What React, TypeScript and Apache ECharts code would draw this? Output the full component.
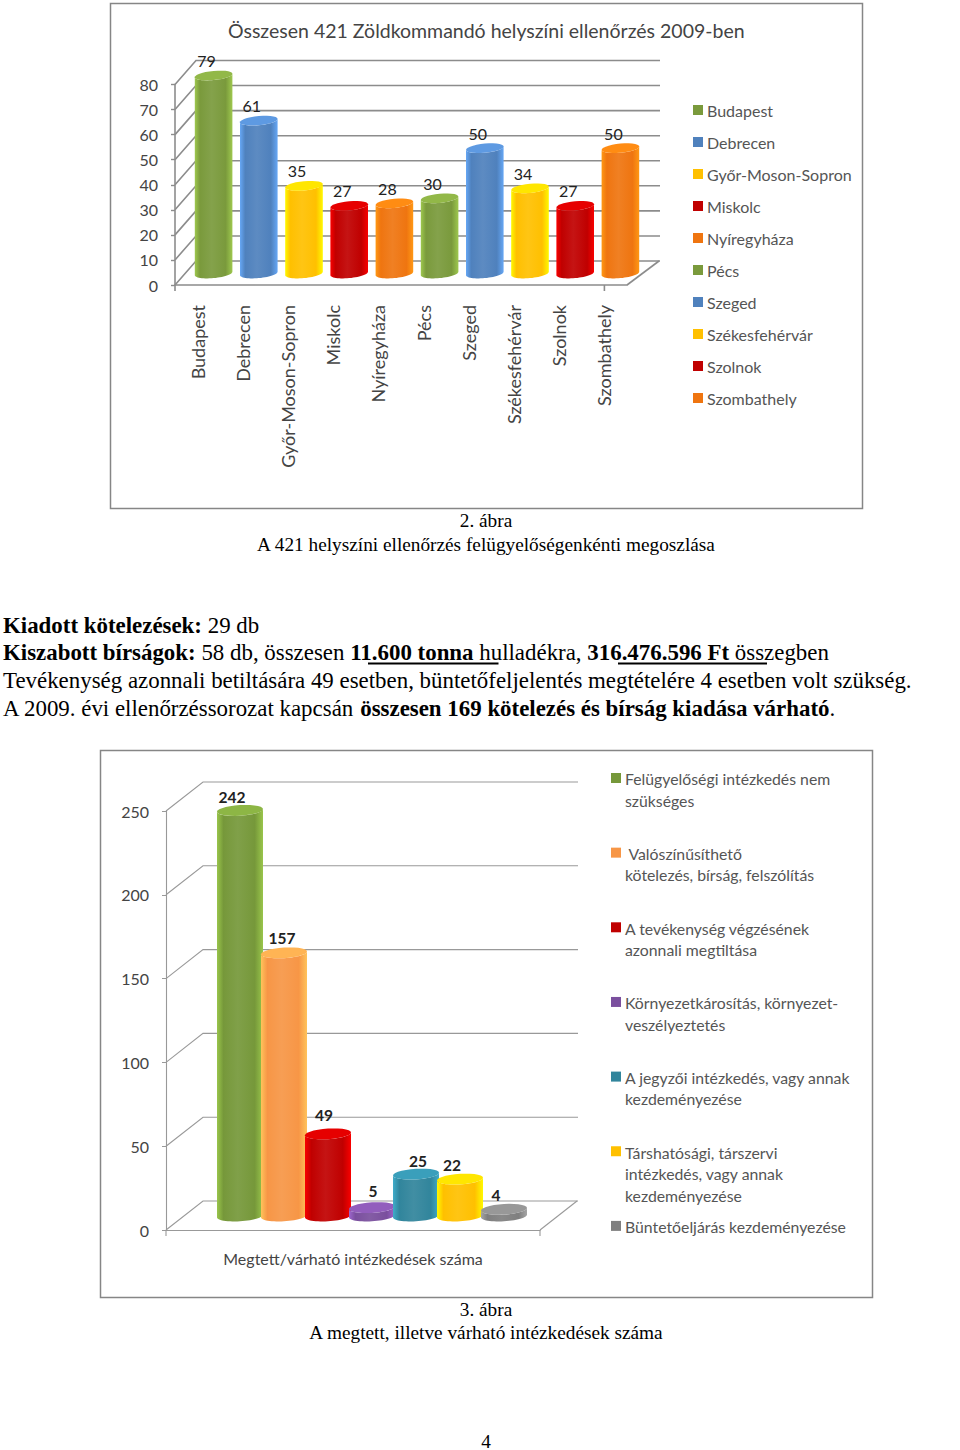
import React, { useEffect, useRef } from "react";
import * as echarts from "echarts";

const SANS = "Lato";
const SERIF = "Liberation Serif";

// Chart 1 data
const title1 = "Összesen 421 Zöldkommandó helyszíni ellenőrzés 2009-ben";
const cities = ["Budapest", "Debrecen", "Győr-Moson-Sopron", "Miskolc", "Nyíregyháza", "Pécs", "Szeged", "Székesfehérvár", "Szolnok", "Szombathely"];
const cityValues = [79, 61, 35, 27, 28, 30, 50, 34, 27, 50];
const cityColors = ["#7a9a3c", "#4f81bd", "#ffc000", "#c00000", "#ef7510", "#7a9a3c", "#4f81bd", "#ffc000", "#c00000", "#ef7510"];
const ticks1 = [0, 10, 20, 30, 40, 50, 60, 70, 80];

// Chart 2 data
const axisName2 = "Megtett/várható intézkedések száma";
const actions = [
  "Felügyelőségi intézkedés nem\nszükséges",
  " Valószínűsíthető\nkötelezés, bírság, felszólítás",
  "A tevékenység végzésének\nazonnali megtiltása",
  "Környezetkárosítás, környezet-\nveszélyeztetés",
  "A jegyzői intézkedés, vagy annak\nkezdeményezése",
  "Társhatósági, társzervi\nintézkedés, vagy annak\nkezdeményezése",
  "Büntetőeljárás kezdeményezése",
];
const actionValues = [242, 157, 49, 5, 25, 22, 4];
const actionColors = ["#76983a", "#f79646", "#c00000", "#7a4f9e", "#31859c", "#ffc000", "#7f7f7f"];
const actionLabelOffsets = [[-8, -13], [-2, -15], [-4, -19], [1, -17], [2, -13], [-8, -14], [-8, -14]];
const ticks2 = [0, 50, 100, 150, 200, 250];

// Page text
const caption1 = ["2. ábra", "A 421 helyszíni ellenőrzés felügyelőségenkénti megoszlása"];
const caption2 = ["3. ábra", "A megtett, illetve várható intézkedések száma"];
const bodyLines = [
  "{b|Kiadott kötelezések:} 29 db",
  "{b|Kiszabott bírságok:} 58 db, összesen {b|11.600 tonna} hulladékra, {b|316.476.596 Ft} összegben",
  "Tevékenység azonnali betiltására 49 esetben, büntetőfeljelentés megtételére 4 esetben volt szükség.",
  "A 2009. évi ellenőrzéssorozat kapcsán {b|összesen 169 kötelezés és bírság kiadása várható}.",
];
const pageNumber = "4";

function ellipsePts(cx: number, cy: number, rx: number, ry: number, slope: number, from: number, to: number) {
  const pts: number[][] = [];
  const n = 28;
  for (let i = 0; i <= n; i++) {
    const t = from + ((to - from) * i) / n;
    const c = Math.cos(t);
    pts.push([cx + rx * c, cy + ry * Math.sin(t) - slope * rx * c]);
  }
  return pts;
}

function cylinder(cfg: any) {
  return (params: any, api: any) => {
    const p = api.coord([api.value(0), api.value(1)]);
    const base = api.coord([api.value(0), 0]);
    const cx = p[0] + cfg.dx + (cfg.step || 0);
    const topY = p[1] + cfg.dy;
    const baseY = base[1] + cfg.dy;
    const c = cfg.color;
    const dark = echarts.color.lift(c, -0.3);
    const light = echarts.color.lift(c, 0.08);
    const top = ellipsePts(cx, topY, cfg.rx, cfg.ry, cfg.slope, 0, Math.PI * 2);
    const body = [
      ...ellipsePts(cx, baseY, cfg.rx, cfg.ry, cfg.slope, Math.PI, 0),
      ...ellipsePts(cx, topY, cfg.rx, cfg.ry, cfg.slope, 0, Math.PI),
    ];
    return {
      type: "group",
      children: [
        {
          type: "polygon",
          shape: { points: body },
          style: {
            fill: new echarts.graphic.LinearGradient(0, 0, 1, 0, [
              { offset: 0, color: dark },
              { offset: 0.14, color: c },
              { offset: 0.45, color: light },
              { offset: 0.82, color: c },
              { offset: 1, color: dark },
            ]),
          },
        },
        { type: "polygon", shape: { points: top }, style: { fill: echarts.color.lift(c, -0.2) } },
        {
          type: "text",
          x: cx + cfg.lx,
          y: topY + cfg.ly,
          style: {
            text: String(api.value(1)),
            font: `${cfg.labelWeight} ${cfg.labelSize}px ${SANS}`,
            fill: "#222",
            align: "center",
            verticalAlign: "middle",
          },
        },
      ],
    };
  };
}

function wall(cfg: any) {
  return (params: any, api: any) => {
    const v = api.value(1);
    const y = api.coord([0, v])[1];
    const g = params.coordSys;
    const backX = g.x + cfg.dx;
    const style = { stroke: cfg.color, lineWidth: cfg.lineWidth, fill: "none" };
    const children: any[] = [
      { type: "polyline", shape: { points: [[g.x, y], [backX, y - cfg.dy], [g.x + cfg.backRight, y - cfg.dy]] }, style },
    ];
    if (v === 0) {
      const rx = g.x + g.width;
      children.push(
        { type: "polyline", shape: { points: [[rx, y], [g.x + cfg.backRight - 1, y - cfg.dy]] }, style },
        { type: "line", shape: { x1: g.x, y1: y, x2: g.x, y2: y + 6 }, style },
        { type: "line", shape: { x1: g.x + g.width * cfg.tickFrac, y1: y, x2: g.x + g.width * cfg.tickFrac, y2: y + 6 }, style },
      );
    }
    return { type: "group", children };
  };
}

function buildOption() {
  const labelColor = "#444";
  const series: any[] = [
    {
      type: "custom",
      name: "wall1",
      xAxisIndex: 0,
      yAxisIndex: 0,
      z: 1,
      silent: true,
      renderItem: wall({ dx: 21, dy: 24, backRight: 485, color: "#8c8c8c", lineWidth: 1.6, tickFrac: 0.95 }),
      data: ticks1.map((t) => [0, t]),
      encode: { x: 0, y: 1 },
    },
    {
      type: "custom",
      name: "wall2",
      xAxisIndex: 1,
      yAxisIndex: 1,
      z: 1,
      silent: true,
      renderItem: wall({ dx: 37, dy: 29, backRight: 412, color: "#999", lineWidth: 1.1, tickFrac: 1 }),
      data: ticks2.map((t) => [0, t]),
      encode: { x: 0, y: 1 },
    },
  ];
  cities.forEach((name, i) => {
    series.push({
      type: "custom",
      name,
      xAxisIndex: 0,
      yAxisIndex: 0,
      z: 2,
      itemStyle: { color: cityColors[i] },
      renderItem: cylinder({ color: cityColors[i], dx: 16, dy: -11.5, rx: 18.8, ry: 4.6, slope: 0.09, lx: -7, ly: -15, labelSize: 16, labelWeight: "normal" }),
      data: [[name, cityValues[i]]],
      encode: { x: 0, y: 1 },
    });
  });
  actions.forEach((name, i) => {
    series.push({
      type: "custom",
      name,
      xAxisIndex: 1,
      yAxisIndex: 1,
      z: 2 + i * 0.01,
      itemStyle: { color: actionColors[i] },
      renderItem: cylinder({
        color: actionColors[i], dx: 19, dy: -14, rx: 23, ry: 5.3, slope: 0.06, step: (i - 3) * 44,
        lx: actionLabelOffsets[i][0], ly: actionLabelOffsets[i][1], labelSize: 15.5, labelWeight: "bold",
      }),
      data: [[axisName2, actionValues[i]]],
      encode: { x: 0, y: 1 },
    });
  });

  const graphics: any[] = [
    { type: "rect", z: -1, shape: { x: 110.5, y: 3.5, width: 752, height: 505 }, style: { fill: "#fff", stroke: "#868686", lineWidth: 1.5 } },
    { type: "rect", z: -1, shape: { x: 100.5, y: 750.5, width: 772, height: 547 }, style: { fill: "#fff", stroke: "#868686", lineWidth: 1.5 } },
  ];
  const pageText = (text: string, x: number, y: number, size: number, align: string) => ({
    type: "text",
    x,
    y,
    style: {
      text,
      font: `${size}px "${SERIF}"`,
      fontFamily: SERIF,
      fontSize: size,
      fill: "#000",
      align,
      verticalAlign: "middle",
      rich: { b: { fontWeight: "bold", fontFamily: SERIF, fontSize: size, fill: "#000" } },
    },
  });
  graphics.push(pageText(caption1[0], 486, 520.5, 19.3, "center"), pageText(caption1[1], 486, 544, 19.3, "center"));
  graphics.push(pageText(caption2[0], 486, 1309, 19.3, "center"), pageText(caption2[1], 486, 1332.5, 19.3, "center"));
  graphics.push(pageText(pageNumber, 486, 1441, 19.3, "center"));
  const bodyY = [625, 652.5, 680.5, 708];
  bodyLines.forEach((l, i) => graphics.push(pageText(l, 3, bodyY[i], 22.9, "left")));
  [[368, 498.5], [618, 767]].forEach(([a, b]) =>
    graphics.push({ type: "line", shape: { x1: a, y1: 663.5, x2: b, y2: 663.5 }, style: { stroke: "#000", lineWidth: 2 } }),
  );
  actions.forEach((name, i) => {
    const y = 778 + i * 74.65;
    graphics.push(
      { type: "rect", shape: { x: 611, y: y - 5, width: 10, height: 10 }, style: { fill: actionColors[i] } },
      {
        type: "text",
        x: 625,
        y: y - 10,
        style: { text: name, font: `15.8px ${SANS}`, fill: "#555", lineHeight: 21.5, align: "left", verticalAlign: "top" },
      },
    );
  });

  const yLabel = { fontFamily: SANS, fontSize: 16, color: labelColor };
  const axisLine = (color: string, width: number) => ({ show: true, lineStyle: { color, width } });

  return {
    animation: false,
    backgroundColor: "#fff",
    title: {
      text: title1,
      left: 228,
      top: 20,
      padding: 0,
      textStyle: { fontFamily: SANS, fontSize: 19.5, fontWeight: "normal", color: "#444" },
    },
    legend: {
      data: cities,
      orient: "vertical",
      left: 693,
      top: 102,
      padding: 0,
      icon: "rect",
      itemWidth: 10,
      itemHeight: 10,
      itemGap: 16,
      selectedMode: false,
      textStyle: { fontFamily: SANS, fontSize: 16, color: "#555", padding: [0, 0, 0, -1] },
    },
    grid: [
      { left: 175, top: 84.5, width: 452, height: 200.5 },
      { left: 166, top: 811, width: 374, height: 419 },
    ],
    xAxis: [
      {
        type: "category",
        gridIndex: 0,
        data: cities,
        axisLine: axisLine("#8c8c8c", 1.6),
        axisTick: { show: false },
        axisLabel: { interval: 0, rotate: 90, margin: 20, fontFamily: SANS, fontSize: 18, color: labelColor },
      },
      {
        type: "category",
        gridIndex: 1,
        data: [axisName2],
        axisLine: axisLine("#999", 1.1),
        axisTick: { show: false },
        axisLabel: { interval: 0, margin: 20, fontFamily: SANS, fontSize: 16, color: labelColor },
      },
    ],
    yAxis: [
      {
        type: "value",
        gridIndex: 0,
        min: 0,
        max: 80,
        interval: 10,
        axisLine: axisLine("#8c8c8c", 1.6),
        axisTick: { show: true, length: 4, lineStyle: { color: "#8c8c8c", width: 1.4 } },
        splitLine: { show: false },
        axisLabel: { ...yLabel, margin: 17 },
      },
      {
        type: "value",
        gridIndex: 1,
        min: 0,
        max: 250,
        interval: 50,
        axisLine: axisLine("#999", 1.1),
        axisTick: { show: true, length: 4, lineStyle: { color: "#999", width: 1 } },
        splitLine: { show: false },
        axisLabel: { ...yLabel, margin: 17 },
      },
    ],
    series,
    graphic: graphics,
  };
}

export default function App() {
  const ref = useRef<HTMLDivElement>(null);
  useEffect(() => {
    const chart = echarts.init(ref.current!, undefined, { renderer: "svg" });
    chart.setOption(buildOption() as any);
    return () => chart.dispose();
  }, []);
  return <div ref={ref} style={{ position: "absolute", left: 0, top: 0, width: 960, height: 1450 }} />;
}
